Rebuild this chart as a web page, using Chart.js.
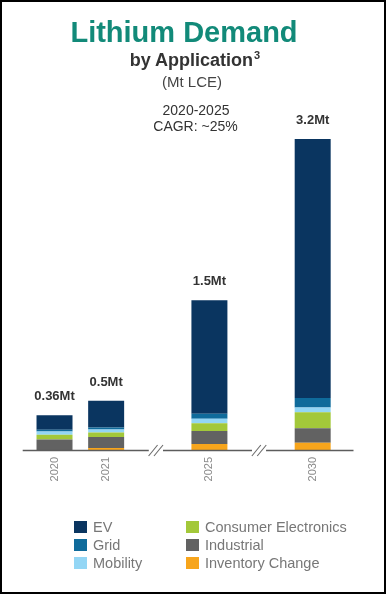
<!DOCTYPE html>
<html><head><meta charset="utf-8">
<script src="https://cdn.jsdelivr.net/npm/chart.js@4.4.0/dist/chart.umd.min.js"></script>
<style>
html,body{margin:0;padding:0;background:#fff;}
#wrap{position:relative;width:386px;height:594px;overflow:hidden;font-family:"Liberation Sans",Arial,sans-serif;background:#fff;}
#frame{position:absolute;left:0;top:0;width:386px;height:594px;box-sizing:border-box;border:2px solid #000;pointer-events:none;z-index:5;}
#c{position:absolute;left:0;top:0;}
.t{position:absolute;white-space:nowrap;transform:translateX(-50%);}
.item{position:absolute;height:18px;white-space:nowrap;}
.sw{position:absolute;left:0;top:3px;width:13px;height:12px;}
.lt{position:absolute;left:19px;top:0;font-size:14.5px;line-height:18px;color:#777;}
</style></head>
<body>
<div id="wrap">
  <canvas id="c" width="386" height="594"></canvas>
  <div class="t" style="left:184px;top:18px;font-size:29px;line-height:29px;font-weight:bold;color:#128a79;">Lithium Demand</div>
  <div class="t" style="left:195px;top:51px;font-size:18px;line-height:18px;font-weight:bold;color:#333;">by Application<span style="font-size:11px;position:relative;top:-7px;margin-left:1px;">3</span></div>
  <div class="t" style="left:192px;top:74px;font-size:15px;line-height:15px;color:#444;">(Mt LCE)</div>
  <div class="t" style="left:196px;top:103px;font-size:14px;line-height:14px;color:#333;">2020-2025</div>
  <div class="t" style="left:195.5px;top:119px;font-size:14px;line-height:14px;color:#333;">CAGR: ~25%</div>
  <div id="legend"></div>
  <div id="frame"></div>
</div>
<script>
// Categories (empty strings are the axis-break slots)
const categories = ['2020', '2021', '', '2025', '', '2030'];
const totalLabels = ['0.36Mt', '0.5Mt', '', '1.5Mt', '', '3.2Mt'];

// Series values (Mt LCE)
const inventoryChange     = [0.000, 0.020, null, 0.062, null, 0.075];
const industrial          = [0.107, 0.113, null, 0.134, null, 0.150];
const consumerElectronics = [0.050, 0.048, null, 0.080, null, 0.165];
const mobility            = [0.034, 0.031, null, 0.045, null, 0.048];
const grid                = [0.017, 0.020, null, 0.052, null, 0.097];
const ev                  = [0.150, 0.275, null, 1.170, null, 2.670];

const seriesNames  = ['Inventory Change', 'Industrial', 'Consumer Electronics', 'Mobility', 'Grid', 'EV'];
const seriesValues = [inventoryChange, industrial, consumerElectronics, mobility, grid, ev];
const seriesColors = ['#f7a51c', '#626262', '#a3c83a', '#93d6f5', '#0f6b9b', '#0a3560'];

const datasets = seriesNames.map((n, i) => ({
  label: n,
  data: seriesValues[i],
  backgroundColor: seriesColors[i],
  borderWidth: 0,
  barPercentage: 0.697,
  categoryPercentage: 1.0
}));

const FONT = '"Liberation Sans", Arial, sans-serif';

const valueLabels = {
  id: 'valueLabels',
  afterDatasetsDraw(chart) {
    const ctx = chart.ctx, ys = chart.scales.y, xs = chart.scales.x;
    ctx.save();
    ctx.font = 'bold 13px ' + FONT;
    ctx.fillStyle = '#333';
    ctx.textAlign = 'center';
    ctx.textBaseline = 'middle';
    categories.forEach((c, i) => {
      if (!totalLabels[i]) return;
      let sum = 0;
      seriesValues.forEach(s => { sum += (s[i] || 0); });
      ctx.fillText(totalLabels[i], xs.getPixelForValue(i), ys.getPixelForValue(sum) - 18.5);
    });
    ctx.restore();
  }
};

const brokenAxis = {
  id: 'brokenAxis',
  afterDatasetsDraw(chart) {
    const ctx = chart.ctx, area = chart.chartArea, xs = chart.scales.x;
    const y = Math.round(area.bottom) + 0.5;
    ctx.save();
    ctx.strokeStyle = '#5c5c5c';
    ctx.lineWidth = 1.4;
    ctx.beginPath();
    ctx.moveTo(area.left - 6, y);
    ctx.lineTo(area.right + 15, y);
    ctx.stroke();
    categories.forEach((c, i) => {
      if (c !== '') return;
      const cx = xs.getPixelForValue(i) - 2;
      ctx.clearRect(cx - 7, y - 3, 14, 6);
      ctx.fillStyle = '#fff';
      ctx.fillRect(cx - 7, y - 3, 14, 6);
      ctx.strokeStyle = '#6a6a6a';
      ctx.lineWidth = 1.1;
      [-2.7, 2.7].forEach(o => {
        ctx.beginPath();
        ctx.moveTo(cx + o - 4.5, y + 5.5);
        ctx.lineTo(cx + o + 4.5, y - 5.5);
        ctx.stroke();
      });
    });
    ctx.restore();
  }
};

new Chart(document.getElementById('c'), {
  type: 'bar',
  data: { labels: categories, datasets },
  options: {
    responsive: false,
    animation: false,
    devicePixelRatio: 1,
    layout: { padding: { left: 28.7, right: 47.5, top: 100.7, bottom: 0 } },
    plugins: { legend: { display: false }, tooltip: { enabled: false } },
    scales: {
      x: {
        stacked: true,
        offset: true,
        grid: { display: false, drawTicks: false },
        border: { display: false },
        ticks: {
          autoSkip: false, minRotation: 90, maxRotation: 90, padding: 7,
          color: '#8a8a8a', font: { family: FONT, size: 11 }
        },
        afterFit(scale) { scale.height = 144; }
      },
      y: {
        stacked: true, display: false, min: 0, max: 3.6
      }
    }
  },
  plugins: [valueLabels, brokenAxis]
});

// HTML legend built from the datasets (legend order: EV first)
const legendEl = document.getElementById('legend');
const legendOrder = datasets.slice().reverse();
const colX = [74, 186];
const rowY = [527, 545, 563];
legendOrder.forEach((d, i) => {
  const col = Math.floor(i / 3), row = i % 3;
  const it = document.createElement('div');
  it.className = 'item';
  it.style.left = colX[col] + 'px';
  it.style.top = (rowY[row] - 9) + 'px';
  const sw = document.createElement('span');
  sw.className = 'sw';
  sw.style.background = d.backgroundColor;
  const tx = document.createElement('span');
  tx.className = 'lt';
  tx.textContent = d.label;
  it.appendChild(sw); it.appendChild(tx);
  legendEl.appendChild(it);
});
</script>
</body></html>
